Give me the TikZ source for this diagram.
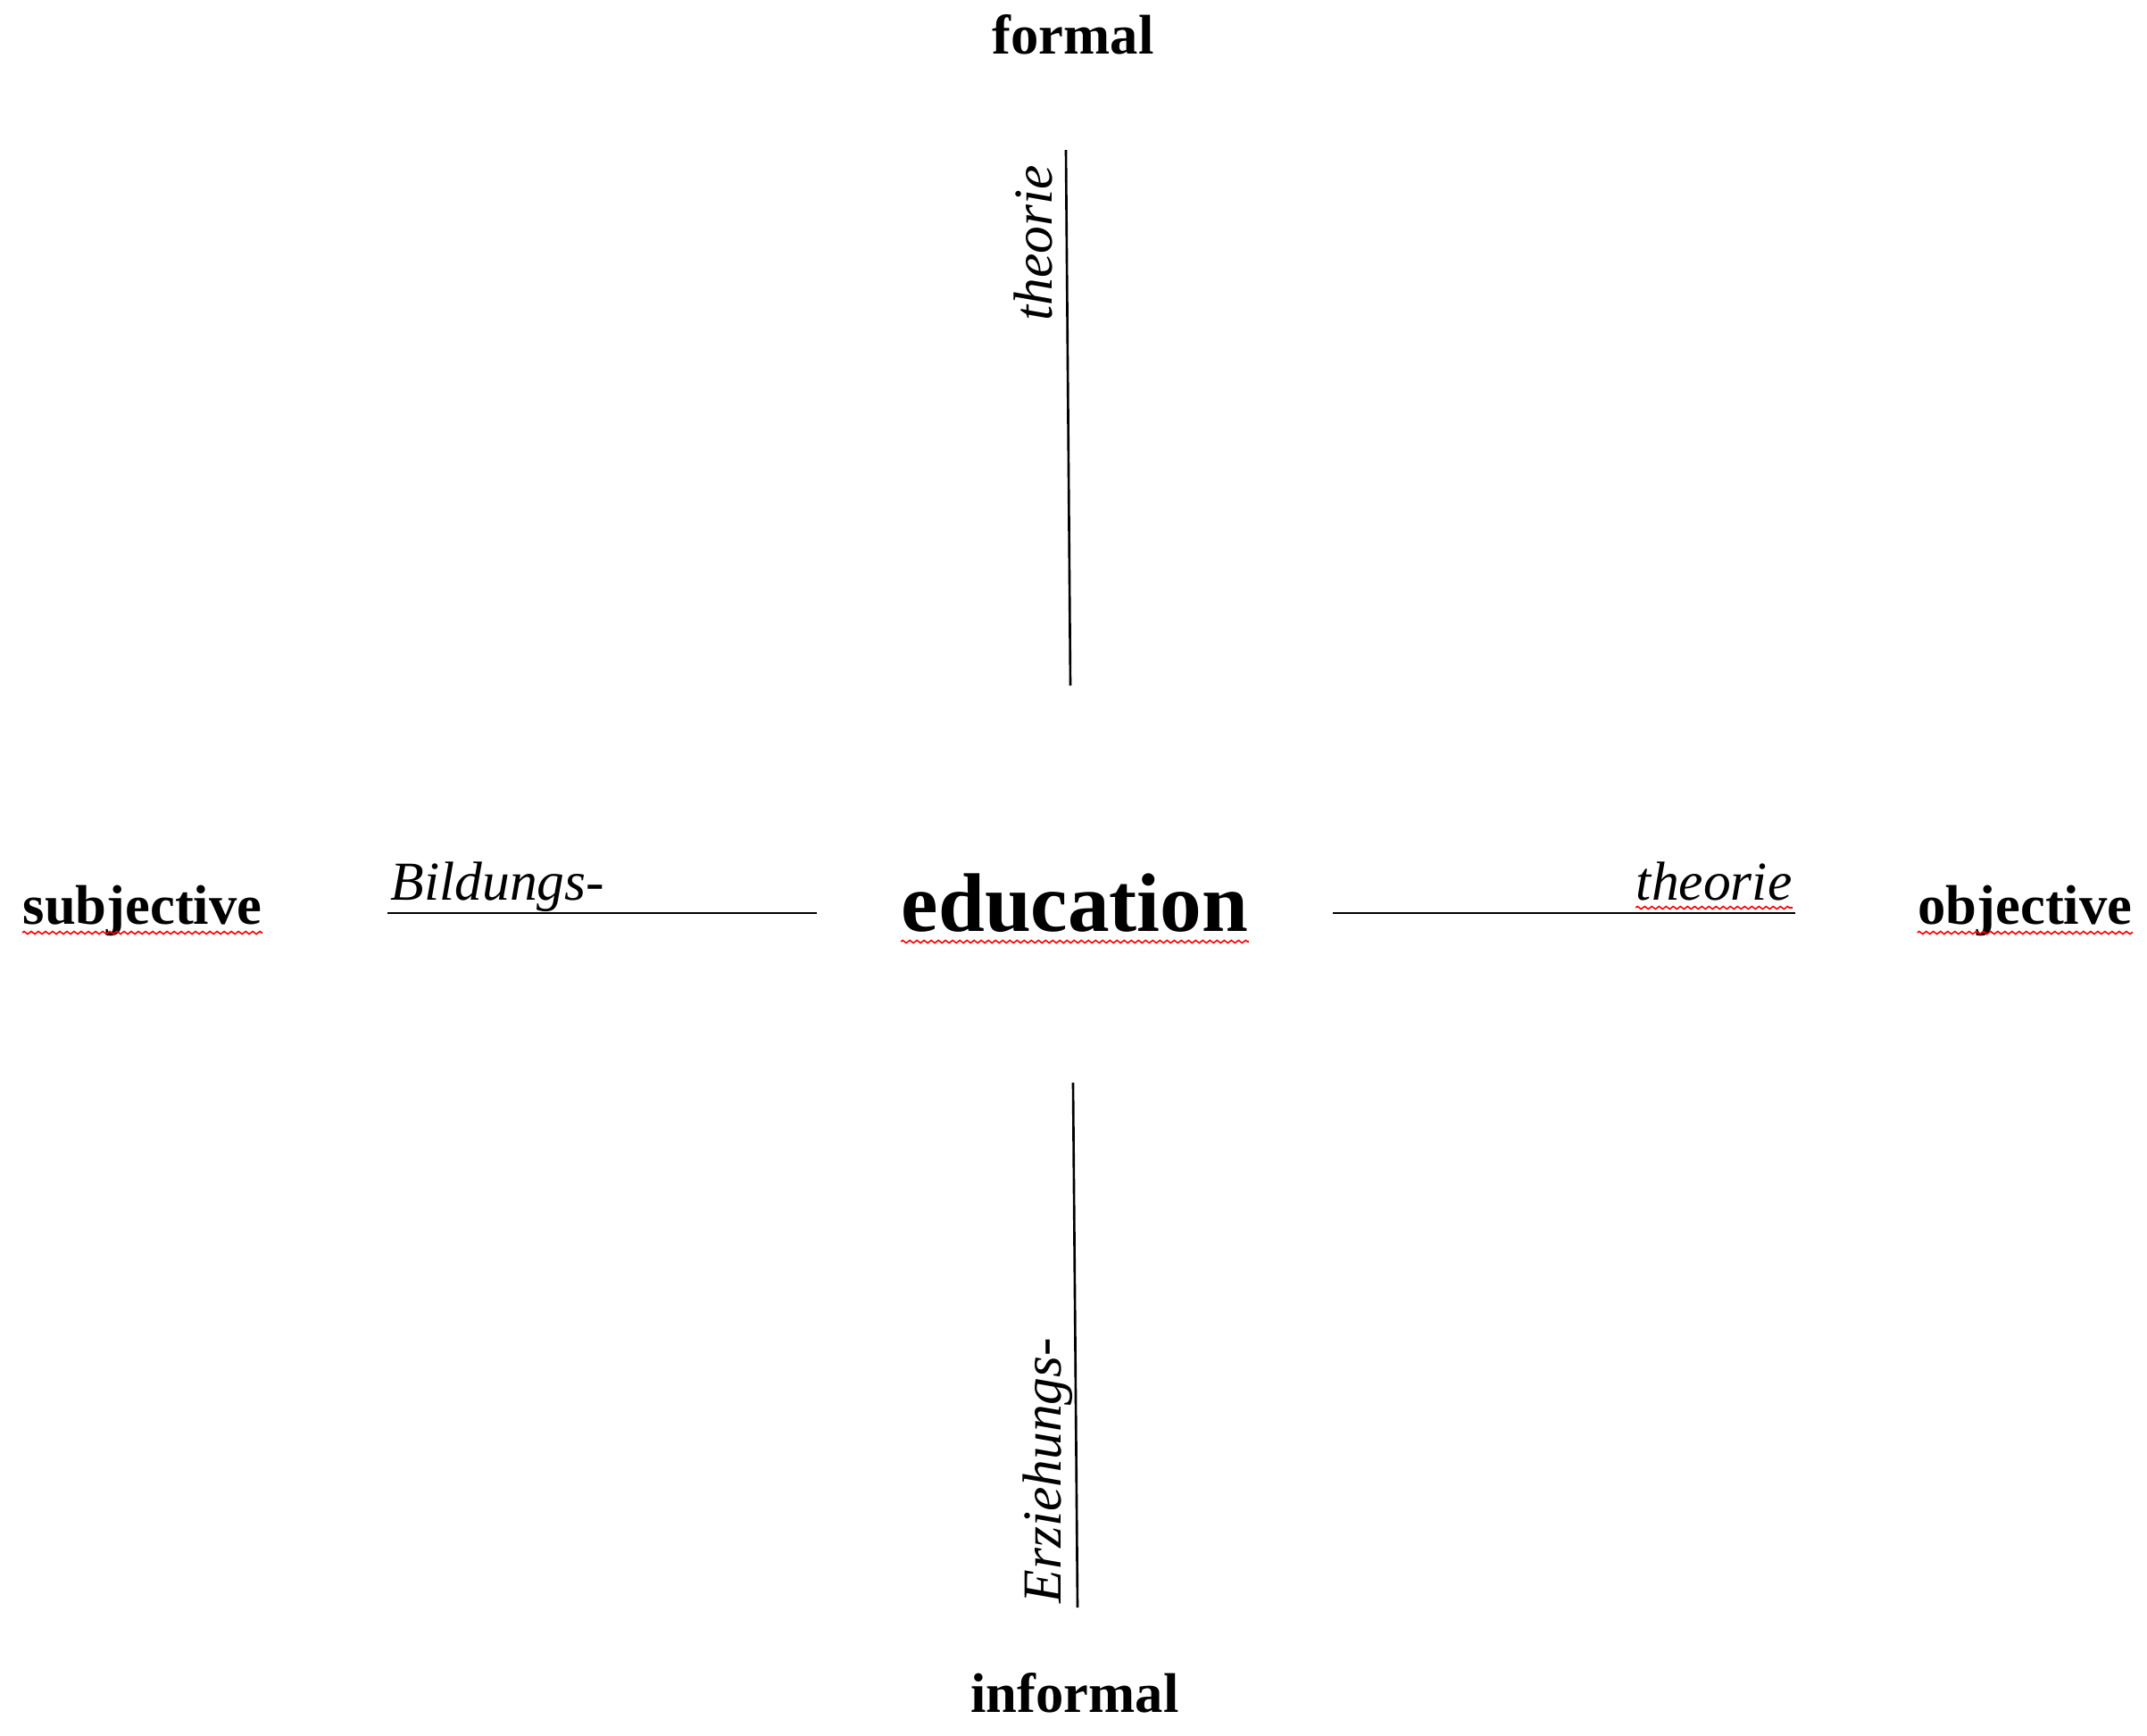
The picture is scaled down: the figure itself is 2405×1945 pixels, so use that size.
\documentclass[tikz,border=0pt]{standalone}
\usepackage{fontspec}
\setmainfont{Liberation Serif}
\usetikzlibrary{decorations.pathmorphing}
\tikzset{
  axisline/.style={line width=0.75pt, black},
  polelabel/.style={font=\fontsize{17.8}{21}\selectfont\bfseries, inner sep=0pt},
  prefixlabel/.style={font=\fontsize{17.5}{21}\selectfont\itshape, inner sep=0pt},
  centrelabel/.style={font=\fontsize{26.5}{31}\selectfont\bfseries, inner sep=0pt},
  spellmark/.style={red, line width=0.45pt, decorate, decoration={zigzag, segment length=0.08cm, amplitude=0.015cm}},
}
\begin{document}
\begin{tikzpicture}[x=0.01cm,y=-0.01cm]
\useasboundingbox (0,0) rectangle (2405,1945);
\node[polelabel, anchor=base] (formal) at (1202,60) {formal};
\node[polelabel, anchor=base] (informal) at (1204,1918) {informal};
\node[polelabel, anchor=base west] (subj) at (25,1035) {subjective};
\node[polelabel, anchor=base east] (obj) at (2389,1035) {objective};
\node[centrelabel, anchor=base] (edu) at (1204,1043) {education};
\node[prefixlabel, anchor=base west] (bild) at (437,1008) {Bildungs-};
\node[prefixlabel, anchor=base east] (theoR) at (2008,1008) {theorie};
\node[prefixlabel, anchor=base west, rotate=90] (theoT) at (1178,360) {theorie};
\node[prefixlabel, anchor=base west, rotate=90] (erz) at (1188,1797) {Erziehungs-};
\coordinate (tA) at (1194,168);
\coordinate (tB) at (1199,768);
\coordinate (bA) at (1202,1213);
\coordinate (bB) at (1207,1801);
\coordinate (lA) at (434,1023);
\coordinate (lB) at (915,1023);
\coordinate (rA) at (1493,1023);
\coordinate (rB) at (2011,1023);
\draw[axisline] (tA) -- (tB);
\draw[axisline] (bA) -- (bB);
\draw[axisline] (lA) -- (lB);
\draw[axisline] (rA) -- (rB);
\draw[spellmark] ([yshift=-0.1cm]subj.base west) -- ([yshift=-0.1cm]subj.base east);
\draw[spellmark] ([yshift=-0.12cm]edu.base west) -- ([yshift=-0.12cm]edu.base east);
\draw[spellmark] ([yshift=-0.09cm]theoR.base west) -- ([yshift=-0.09cm]theoR.base east);
\draw[spellmark] ([yshift=-0.1cm]obj.base west) -- ([yshift=-0.1cm]obj.base east);
\end{tikzpicture}
\end{document}
